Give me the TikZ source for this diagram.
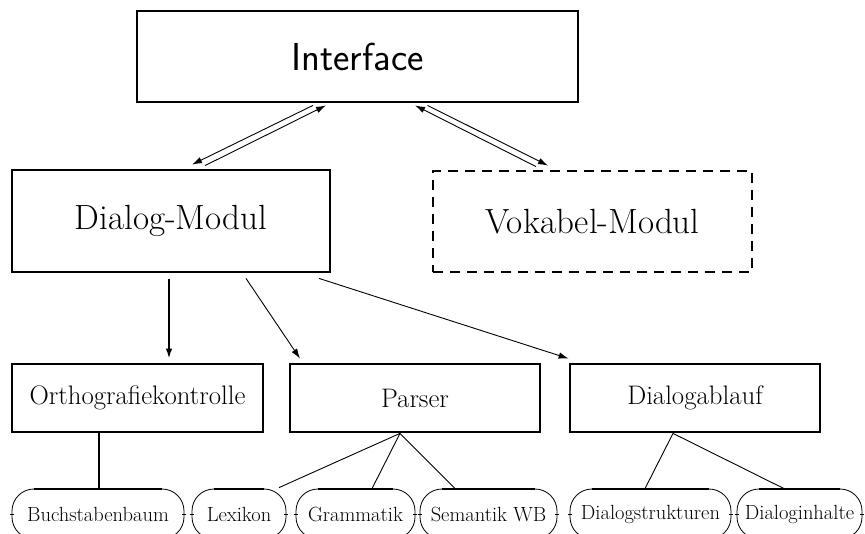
\documentclass[tikz,border=0pt]{standalone}
\usepackage{fontspec}
\usetikzlibrary{arrows.meta}
\tikzset{
  box/.style={draw, line width=2.8pt, rectangle, inner sep=0pt},
  bigbox/.style={box, font=\fontsize{35}{42}\selectfont},
  midbox/.style={box, minimum width=250pt, minimum height=68pt, font=\fontsize{26.8}{32}\selectfont},
  leaf/.style={draw, line width=0.8pt, rounded corners=22pt, minimum height=50pt, inner sep=0pt, font=\fontsize{20.5}{24}\selectfont},
  arr/.style={line width=0.9pt, -{Latex[length=10pt,width=6.5pt]}},
  thickarr/.style={line width=1.7pt, -{Latex[length=10pt,width=6.5pt]}},
  ln/.style={line width=0.9pt},
  thickln/.style={line width=2pt}
}
\begin{document}
\begin{tikzpicture}[x=1pt,y=-1pt]
\useasboundingbox (0,0) rectangle (865,534);
\node[box, minimum width=441pt, minimum height=91pt, font=\sffamily\fontsize{39}{47}\selectfont] (iface) at (357.5,56.5) {Interface};
\node[bigbox, minimum width=318pt, minimum height=102pt] (dm) at (171,221) {Dialog-Modul};
\node[bigbox, minimum width=319pt, minimum height=101pt, dash pattern=on 10pt off 7pt] (vm) at (592.5,221.5) {Vokabel-Modul};
\node[midbox, minimum width=251pt] (ortho) at (137.5,398) {Orthografiekontrolle};
\node[midbox] (parser) at (415,398) {Parser};
\node[midbox] (dial) at (695,398) {Dialogablauf};
\node[leaf, minimum width=172pt] (bb) at (98,514) {Buchstabenbaum};
\node[leaf, minimum width=94pt] (lex) at (239,514) {Lexikon};
\node[leaf, minimum width=119pt] (gram) at (355.5,514) {Grammatik};
\node[leaf, minimum width=137pt] (sem) at (488.5,514) {Semantik WB};
\node[leaf, minimum width=161pt] (ds) at (650.5,514) {Dialogstrukturen};
\node[leaf, minimum width=125pt] (di) at (799.5,514) {Dialoginhalte};
\foreach \n in {bb,lex,gram,sem,ds,di}{
  \draw[line width=2pt] ([xshift=22pt]\n.north west) -- ([xshift=-22pt]\n.north east);
  \draw[line width=0.8pt] ([xshift=-2pt]\n.west) -- ([xshift=2pt]\n.west);
  \draw[line width=0.8pt] ([xshift=-2pt]\n.east) -- ([xshift=2pt]\n.east);
}
% double arrows
\draw[arr] ([xshift=-44.5pt,yshift=-2pt]iface.south) -- ([xshift=21pt,yshift=4pt]dm.north);
\draw[arr] ([xshift=34pt,yshift=3pt]dm.north) -- ([xshift=-31.5pt,yshift=-2pt]iface.south);
\draw[arr] ([xshift=-56.5pt,yshift=3pt]vm.north) -- ([xshift=57.5pt,yshift=-2pt]iface.south);
\draw[arr] ([xshift=70pt,yshift=-2pt]iface.south) -- ([xshift=-44.5pt,yshift=4pt]vm.north);
% dialog modul to components
\draw[thickarr] ([xshift=-2pt,yshift=-6pt]dm.south) -- ([xshift=31.5pt,yshift=4pt]ortho.north);
\draw[arr] ([xshift=75pt,yshift=-5pt]dm.south) -- ([xshift=-115pt,yshift=4pt]parser.north);
\draw[arr] ([xshift=148pt,yshift=-5pt]dm.south) -- ([xshift=0pt,yshift=4pt]dial.north west);
% leaves
\draw[thickln] ([xshift=-38.5pt]ortho.south) -- ([xshift=1pt]bb.north);
\draw[ln] ([xshift=-15pt]parser.south) -- ([xshift=40pt,yshift=1pt]lex.north);
\draw[ln] ([xshift=-15pt]parser.south) -- ([xshift=16.5pt]gram.north);
\draw[ln] ([xshift=-15pt]parser.south) -- ([xshift=-33.5pt]sem.north);
\draw[ln] ([xshift=-22pt]dial.south) -- ([xshift=-5.5pt]ds.north);
\draw[ln] ([xshift=-22pt]dial.south) -- ([xshift=-15.5pt]di.north);
\end{tikzpicture}
\end{document}
